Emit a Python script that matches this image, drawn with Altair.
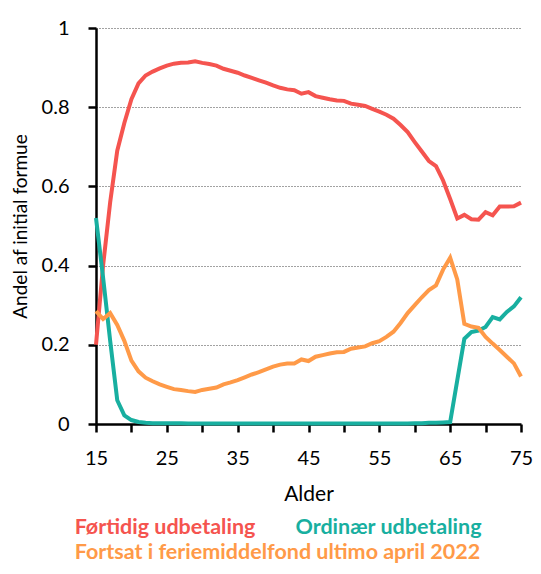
import altair as alt
import pandas as pd

ages = list(range(15, 76))

fortidig = [0.20, 0.40, 0.56, 0.69, 0.76, 0.82, 0.86, 0.88, 0.89, 0.898, 0.905,
            0.91, 0.912, 0.913, 0.916, 0.912, 0.909, 0.905, 0.897, 0.892, 0.887,
            0.88, 0.874, 0.868, 0.862, 0.855, 0.849, 0.845, 0.843, 0.834, 0.838,
            0.828, 0.824, 0.82, 0.817, 0.816, 0.809, 0.806, 0.803, 0.796, 0.789,
            0.781, 0.771, 0.755, 0.737, 0.712, 0.688, 0.664, 0.651, 0.615, 0.568,
            0.519, 0.528, 0.517, 0.516, 0.535, 0.527, 0.549, 0.549, 0.55, 0.559]

ordinaer = [0.52, 0.37, 0.21, 0.06, 0.022, 0.01, 0.005, 0.003, 0.002, 0.002, 0.002,
            0.002, 0.002, 0.001, 0.001, 0.001, 0.001, 0.001, 0.001, 0.001, 0.001,
            0.001, 0.001, 0.001, 0.001, 0.001, 0.001, 0.001, 0.001, 0.001, 0.001,
            0.001, 0.001, 0.001, 0.001, 0.001, 0.001, 0.001, 0.001, 0.001, 0.001,
            0.001, 0.001, 0.001, 0.001, 0.002, 0.002, 0.003, 0.003, 0.004, 0.005,
            0.11, 0.215, 0.232, 0.236, 0.245, 0.27, 0.264, 0.283, 0.297, 0.32]

fortsat = [0.285, 0.265, 0.28, 0.25, 0.21, 0.16, 0.133, 0.117, 0.108, 0.10, 0.094,
           0.088, 0.086, 0.083, 0.081, 0.086, 0.089, 0.092, 0.10, 0.105, 0.111,
           0.118, 0.125, 0.131, 0.138, 0.145, 0.15, 0.153, 0.153, 0.163, 0.159,
           0.17, 0.174, 0.178, 0.181, 0.182, 0.19, 0.193, 0.196, 0.204, 0.209,
           0.22, 0.233, 0.255, 0.28, 0.30, 0.32, 0.338, 0.35, 0.39, 0.42,
           0.365, 0.253, 0.246, 0.243, 0.22, 0.203, 0.187, 0.17, 0.153, 0.12]

series_names = ["Førtidig udbetaling", "Ordinær udbetaling",
                "Fortsat i feriemiddelfond ultimo april 2022"]
colors = ["#F5544F", "#18AFA0", "#FF9A48"]

rows = []
for name, vals in zip(series_names, [fortidig, ordinaer, fortsat]):
    for a, v in zip(ages, vals):
        rows.append({"Alder": a, "value": v, "serie": name})
df = pd.DataFrame(rows)

FONT = "Lato"

lines = alt.Chart(df).mark_line(strokeWidth=4, clip=False).encode(
    x=alt.X("Alder:Q", scale=alt.Scale(domain=[15, 75], nice=False, zero=False),
            axis=alt.Axis(title="Alder", values=list(range(15, 76, 5)),
                          labelExpr="datum.value % 10 == 5 ? datum.label : ''",
                          grid=False, tickSize=8, tickWidth=2.5, domainWidth=2.5,
                          domainColor="black", tickColor="black",
                          labelPadding=16, titlePadding=15,
                          labelFontSize=20, titleFontSize=21,
                          labelFont=FONT, titleFont=FONT,
                          labelColor="black", titleColor="black",
                          titleFontWeight="normal", labelFlush=False)),
    y=alt.Y("value:Q", scale=alt.Scale(domain=[0, 1], nice=False),
            axis=alt.Axis(title="Andel af initial formue",
                          values=[0, 0.2, 0.4, 0.6, 0.8, 1], format="~g",
                          grid=True, gridDash=[1, 2], gridColor="#444",
                          gridWidth=1, tickSize=8, tickWidth=2.5,
                          domainWidth=2.5, domainColor="black", tickColor="black",
                          labelPadding=19, titlePadding=11,
                          labelFontSize=20, titleFontSize=19,
                          labelFont=FONT, titleFont=FONT,
                          labelColor="black", titleColor="black",
                          titleFontWeight="normal")),
    color=alt.Color("serie:N", scale=alt.Scale(domain=series_names, range=colors),
                    legend=None),
)

leg_df = pd.DataFrame({
    "serie": series_names,
    "px": [69, 292.5, 181.5],
    "py": [506, 506, 531],
})

legend_layers = []
for i, name in enumerate(series_names):
    legend_layers.append(
        alt.Chart(leg_df[leg_df.serie == name]).mark_text(
            font=FONT, fontSize=21.5, fontWeight="bold", color=colors[i],
            align="center", baseline="alphabetic", clip=False
        ).encode(x=alt.value(leg_df.px[i]), y=alt.value(leg_df.py[i]),
                 text="serie:N")
    )

chart = alt.layer(lines, *legend_layers).properties(
    width=425, height=396,
    autosize=alt.AutoSizeParams(type="none"),
    padding={"left": 88, "top": 20, "right": 12, "bottom": 142},
).configure_view(stroke=None)

chart.save("out.html", embed_options={"renderer": "svg", "actions": False})
